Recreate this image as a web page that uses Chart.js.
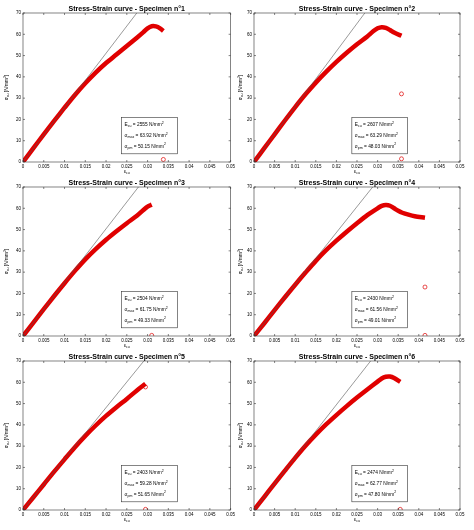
<!DOCTYPE html><html><head><meta charset="utf-8">
<script src="https://cdn.jsdelivr.net/npm/chart.js@4/dist/chart.umd.min.js"></script>
<style>body{margin:0;width:474px;height:530px;background:#fff;position:relative;overflow:hidden}canvas{position:absolute}</style>
</head><body>
<script>
const titles=["Stress-Strain curve - Specimen n°1","Stress-Strain curve - Specimen n°2","Stress-Strain curve - Specimen n°3","Stress-Strain curve - Specimen n°4","Stress-Strain curve - Specimen n°5","Stress-Strain curve - Specimen n°6"];
const E=[2555,2607,2504,2430,2403,2474];
const smax=["63.92","63.29","61.75","61.56","59.28","62.77"];
const spm=["50.15","48.03","49.33","49.01","51.65","47.80"];
const tangentEndX=[0.0274,0.0269,0.0278,0.0288,0.0291,0.0283];
const xTicks=[0,0.005,0.01,0.015,0.02,0.025,0.03,0.035,0.04,0.045,0.05];
const yTicks=[0,10,20,30,40,50,60,70];
const strain=[
[0,0.0025,0.005,0.0075,0.01,0.0125,0.015,0.0175,0.02,0.0225,0.025,0.0275,0.029,0.030,0.031,0.032,0.033,0.0338],
[0,0.0025,0.005,0.0075,0.01,0.0125,0.015,0.0175,0.02,0.0225,0.025,0.0275,0.029,0.030,0.031,0.032,0.033,0.034,0.0358],
[0,0.0025,0.005,0.0075,0.01,0.0125,0.015,0.0175,0.02,0.0225,0.025,0.0275,0.029,0.030,0.031],
[0,0.0025,0.005,0.0075,0.01,0.0125,0.015,0.0175,0.02,0.0225,0.025,0.0275,0.03,0.031,0.032,0.033,0.034,0.035,0.036,0.0375,0.039,0.0415],
[0,0.0025,0.005,0.0075,0.01,0.0125,0.015,0.0175,0.02,0.0225,0.025,0.0275,0.0295],
[0,0.0025,0.005,0.0075,0.01,0.0125,0.015,0.0175,0.02,0.0225,0.025,0.0275,0.03,0.031,0.032,0.033,0.034,0.0355]];
const stress=[
[0,6.5,13,19.3,25.5,31.5,37,42,46.5,50.5,54.5,58.5,61,62.8,63.8,63.7,62.8,61.5],
[0,6.5,13,19.5,25.8,31.8,37.3,42.3,47,51.3,55.3,59,61.5,62.8,63.3,63,62,60.8,59.3],
[0,6.3,12.6,18.8,24.8,30.6,36,40.8,45.2,49.2,53,56.6,59.2,60.8,61.7],
[0,6,12.2,18.2,24.1,29.8,35.3,40.3,44.8,49,53,56.8,60,61.1,61.5,61.2,60,58.8,57.9,57,56.3,55.6],
[0,6,12,18,23.8,29.5,34.8,39.7,44.2,48.3,52.2,56.3,59.3],
[0,6.2,12.4,18.5,24.5,30.2,35.4,40.2,44.6,48.8,52.8,56.6,60.3,61.8,62.6,62.7,62,60.2]];
const markX=[[0.0338],[0.0358,0.0358],[0.031],[0.0415,0.0415],[0.0295,0.0295],[0.0355,0.0355]];
const markY=[[1.2],[32,1.5],[0.3],[23,0.3],[57.8,0.3],[10.5,0.3]];

const FONT='"Liberation Sans",Arial,sans-serif';
const rows=[[0,176,13,14],[176,174,11,14],[350,180,11,20]];
const cols=[[0,237,23,6,16],[237,237,17,14,13]];
function fmt(v){return v===0?'0':String(+v.toFixed(3));}
function subText(ctx,parts,x,y){
  parts.forEach(([t,k])=>{ctx.font=(k?'3.5px ':'4.8px ')+FONT;ctx.fillText(t,x,y+(k===1?1.5:k===2?-2:0));x+=ctx.measureText(t).width;});
  return x;}
function partsWidth(ctx,parts){let w=0;parts.forEach(([t,k])=>{ctx.font=(k?'3.5px ':'4.8px ')+FONT;w+=ctx.measureText(t).width;});return w;}
for(let i=0;i<6;i++){
  const r=rows[Math.floor(i/2)],c=cols[i%2];
  const cv=document.createElement('canvas');
  cv.style.left=c[0]+'px';cv.style.top=r[0]+'px';cv.style.width=c[1]+'px';cv.style.height=r[1]+'px';
  cv.width=c[1];cv.height=r[1];document.body.appendChild(cv);
  const curve=strain[i].map((x,k)=>({x,y:stress[i][k]}));
  const marks=markX[i].map((x,k)=>({x,y:markY[i][k]}));
  const deco={id:'deco',afterDatasetsDraw(ch){
    const ctx=ch.ctx,a=ch.chartArea,xs=ch.scales.x,ys=ch.scales.y;
    ctx.save();ctx.strokeStyle='#333';ctx.lineWidth=0.6;
    ctx.strokeRect(a.left,a.top,a.right-a.left,a.bottom-a.top);
    ctx.beginPath();
    xTicks.forEach(t=>{const p=xs.getPixelForValue(t);ctx.moveTo(p,a.bottom);ctx.lineTo(p,a.bottom-2);ctx.moveTo(p,a.top);ctx.lineTo(p,a.top+2);});
    yTicks.forEach(t=>{const p=ys.getPixelForValue(t);ctx.moveTo(a.left,p);ctx.lineTo(a.left+2,p);ctx.moveTo(a.right,p);ctx.lineTo(a.right-2,p);});
    ctx.stroke();
    ctx.fillStyle='#000';ctx.font='bold 7px '+FONT;ctx.textAlign='center';ctx.textBaseline='bottom';
    ctx.fillText(titles[i],(a.left+a.right)/2,a.top-0.5);
    const w=a.right-a.left,h=a.bottom-a.top;
    const bx=a.left+0.475*w,by=a.top+0.70*h,bw=0.27*w,bh=0.245*h;
    ctx.fillStyle='#fff';ctx.fillRect(bx,by,bw,bh);ctx.strokeStyle='#333';ctx.strokeRect(bx,by,bw,bh);
    ctx.textAlign='left';ctx.textBaseline='middle';ctx.fillStyle='#000';
    const lines=[[['E',0],['cu',1],[' = '+E[i]+' N/mm',0],['2',2]],[['\u03c3',0],['max',1],[' = '+smax[i]+' N/mm',0],['2',2]],[['\u03c3',0],['pm',1],[' = '+spm[i]+' N/mm',0],['2',2]]];
    lines.forEach((L,k)=>subText(ctx,L,bx+3,by+bh*(0.2+0.3*k)));
    const xl=[['\u03b5',0],['cu',1]];
    subText(ctx,xl,(a.left+a.right)/2-partsWidth(ctx,xl)/2,a.bottom+10);
    ctx.translate(a.left-c[4],(a.top+a.bottom)/2);ctx.rotate(-Math.PI/2);
    const yl=[['\u03c3',0],['cu',1],[' [N/mm',0],['2',2],[']',0]];
    subText(ctx,yl,-partsWidth(ctx,yl)/2,0);
    ctx.restore();}};
  new Chart(cv,{type:'scatter',
    data:{datasets:[
      {data:curve,showLine:true,borderColor:'#e00000',borderWidth:4.5,pointRadius:0,tension:0.3,order:2},
      {data:[{x:0,y:0},{x:tangentEndX[i],y:70}],showLine:true,borderColor:'#555',borderWidth:0.6,pointRadius:0,order:1},
      {data:marks,showLine:false,pointStyle:'circle',pointRadius:2,borderColor:'#e00000',borderWidth:0.7,backgroundColor:'rgba(0,0,0,0)',order:0}]},
    options:{responsive:false,animation:false,devicePixelRatio:1,
      layout:{padding:{top:r[2],right:c[3],left:0,bottom:0}},
      plugins:{legend:{display:false},tooltip:{enabled:false}},
      scales:{
        x:{type:'linear',min:0,max:0.05,grid:{display:false,drawTicks:false,tickLength:0},border:{display:false},
          afterBuildTicks(s){s.ticks=xTicks.map(v=>({value:v}));},
          afterFit(s){s.height=r[3];},
          ticks:{font:{size:4.5,family:FONT},color:'#000',padding:2,maxRotation:0,callback:v=>fmt(v)}},
        y:{min:0,max:70,grid:{display:false,drawTicks:false,tickLength:0},border:{display:false},
          afterBuildTicks(s){s.ticks=yTicks.map(v=>({value:v}));},
          afterFit(s){s.width=c[2];},
          ticks:{font:{size:4.5,family:FONT},color:'#000',padding:2}}}},
    plugins:[deco]});
}
</script></body></html>
